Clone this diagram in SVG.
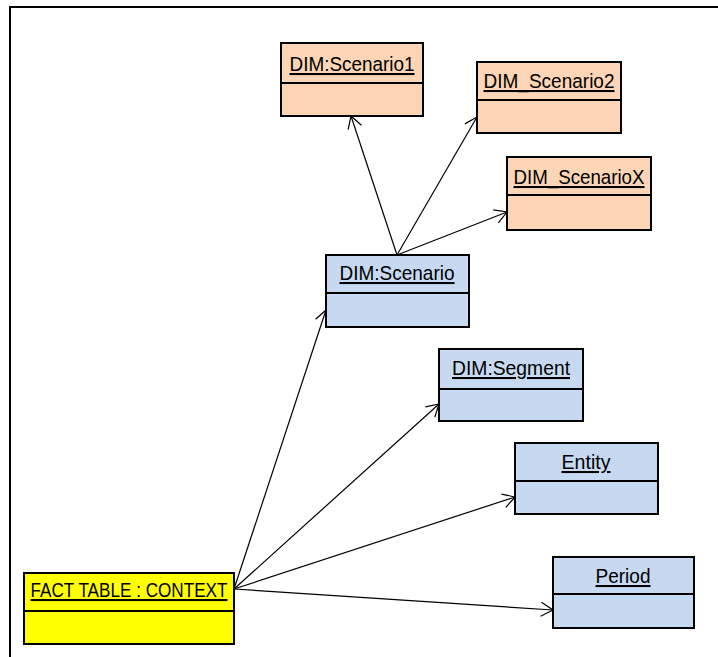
<svg xmlns="http://www.w3.org/2000/svg" width="718" height="657" viewBox="0 0 718 657">
<style>
.box{stroke:#000;stroke-width:2}
.orange{fill:#FBD5B5}
.blue{fill:#C6D9F1}
.yellow{fill:#FFFF00}
.div{stroke:#000;stroke-width:2}
.lbl{font-family:"Liberation Sans",Arial,sans-serif;font-size:20.5px;fill:#000;text-anchor:middle;text-decoration:underline}
.conn{stroke:#000;stroke-width:1.2;fill:none;marker-end:url(#arr)}
</style>
<defs>
<marker id="arr" markerWidth="16" markerHeight="16" refX="13" refY="8" orient="auto" markerUnits="userSpaceOnUse" overflow="visible">
<path d="M1,1 L13,8 L1,15" fill="none" stroke="#000" stroke-width="1.2"/>
</marker>
</defs>
<rect width="718" height="657" fill="#fff"/>
<g id="frame">
<path d="M10,657 L10,7 L718,7" fill="none" stroke="#000" stroke-width="2"/>
</g>
<g id="connectors">
<line class="conn" x1="397" y1="255" x2="351" y2="116"/>
<line class="conn" x1="397" y1="255" x2="477" y2="117"/>
<line class="conn" x1="397" y1="255" x2="507" y2="212"/>
<line class="conn" x1="234" y1="589" x2="326" y2="310"/>
<line class="conn" x1="234" y1="589" x2="439" y2="404"/>
<line class="conn" x1="234" y1="589" x2="515" y2="497"/>
<line class="conn" x1="234" y1="589" x2="553" y2="610"/>
</g>
<g id="scenario1">
<rect class="box orange" x="281" y="43" width="142" height="73"/>
<line class="div" x1="281" y1="83" x2="423" y2="83"/>
<text class="lbl" x="352" y="71" textLength="125" lengthAdjust="spacingAndGlyphs">DIM:Scenario1</text>
</g>
<g id="scenario2">
<rect class="box orange" x="477" y="62" width="144" height="71"/>
<line class="div" x1="477" y1="100" x2="621" y2="100"/>
<text class="lbl" x="549" y="88" textLength="131" lengthAdjust="spacingAndGlyphs">DIM_Scenario2</text>
</g>
<g id="scenarioX">
<rect class="box orange" x="507" y="157" width="144" height="73"/>
<line class="div" x1="507" y1="195" x2="651" y2="195"/>
<text class="lbl" x="579" y="184" textLength="131" lengthAdjust="spacingAndGlyphs">DIM_ScenarioX</text>
</g>
<g id="scenario">
<rect class="box blue" x="326" y="255" width="143" height="72"/>
<line class="div" x1="326" y1="293" x2="469" y2="293"/>
<text class="lbl" x="397" y="280" textLength="115" lengthAdjust="spacingAndGlyphs">DIM:Scenario</text>
</g>
<g id="segment">
<rect class="box blue" x="439" y="349" width="144" height="72"/>
<line class="div" x1="439" y1="389" x2="583" y2="389"/>
<text class="lbl" x="511" y="375" textLength="118" lengthAdjust="spacingAndGlyphs">DIM:Segment</text>
</g>
<g id="entity">
<rect class="box blue" x="515" y="443" width="143" height="71"/>
<line class="div" x1="515" y1="481" x2="658" y2="481"/>
<text class="lbl" x="586" y="469" textLength="49" lengthAdjust="spacingAndGlyphs">Entity</text>
</g>
<g id="period">
<rect class="box blue" x="553" y="557" width="141" height="71"/>
<line class="div" x1="553" y1="594" x2="694" y2="594"/>
<text class="lbl" x="623" y="583" textLength="55" lengthAdjust="spacingAndGlyphs">Period</text>
</g>
<g id="fact">
<rect class="box yellow" x="24" y="573" width="210" height="71"/>
<line class="div" x1="24" y1="611" x2="234" y2="611"/>
<text class="lbl" x="129" y="597" textLength="197" lengthAdjust="spacingAndGlyphs">FACT TABLE : CONTEXT</text>
</g>
</svg>
